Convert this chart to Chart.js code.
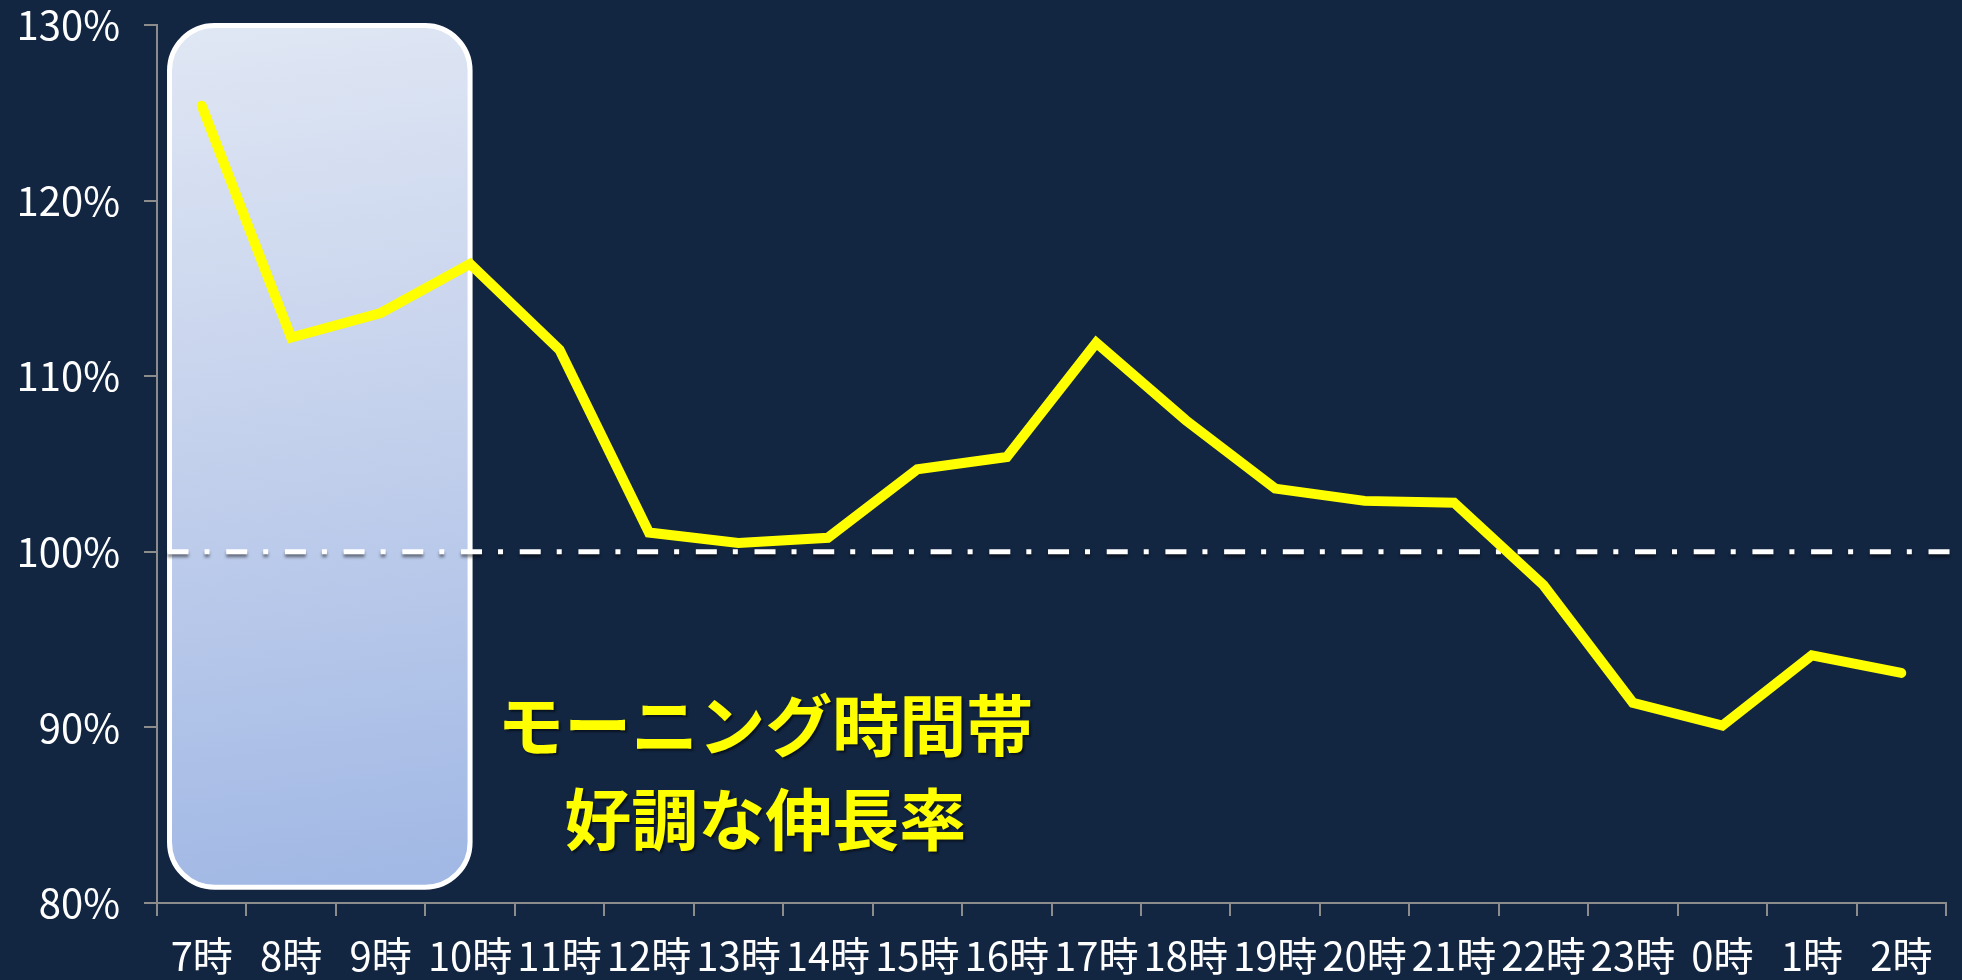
<!DOCTYPE html>
<html>
<head>
<meta charset="utf-8">
<script src="https://cdn.jsdelivr.net/npm/chart.js@4.4.1/dist/chart.umd.min.js"></script>
<style>
  html, body { margin: 0; padding: 0; background: #122541; }
  #wrap { width: 1962px; height: 980px; }
</style>
</head>
<body>
<div id="wrap"><canvas id="chart" width="1962" height="980"></canvas></div>
<script>
const hours = ['7時','8時','9時','10時','11時','12時','13時','14時','15時','16時','17時','18時','19時','20時','21時','22時','23時','0時','1時','2時'];
const growthRate = [125.4, 112.2, 113.6, 116.4, 111.5, 101.1, 100.5, 100.8, 104.7, 105.4, 111.9, 107.5, 103.6, 102.9, 102.8, 98.1, 91.4, 90.1, 94.1, 93.1];
const yTicks = [80, 90, 100, 110, 120, 130];
const baseline = 100;
const noteLines = ['モーニング時間帯', '好調な伸長率'];

const axisGray = '#8c8c8c';
const labelFont = { family: '"Noto Sans CJK JP", "Noto Sans", sans-serif', size: 40 };

// morning highlight box + dash-dot baseline + note text
const overlay = {
  id: 'overlay',
  beforeDatasetsDraw(chart) {
    const { ctx, scales: { x, y } } = chart;
    const l = x.getPixelForValue(-0.36), r = x.getPixelForValue(3);
    const t = y.getPixelForValue(129.97), b = y.getPixelForValue(80.9);
    ctx.save();
    const g = ctx.createLinearGradient(l, t, l + 120, b);
    g.addColorStop(0, '#e0e7f4');
    g.addColorStop(0.5, '#c3d0ec');
    g.addColorStop(1, '#a2b9e5');
    ctx.beginPath();
    ctx.roundRect(l, t, r - l, b - t, 45);
    ctx.fillStyle = g;
    ctx.fill();
    ctx.lineWidth = 5;
    ctx.strokeStyle = '#ffffff';
    ctx.stroke();

    // 100% dash-dot line
    const yy = y.getPixelForValue(baseline);
    ctx.beginPath();
    ctx.moveTo(l - 2, yy);
    ctx.lineTo(chart.chartArea.right + 4, yy);
    ctx.setLineDash([21, 16, 5, 16.7]);
    ctx.lineWidth = 5;
    ctx.strokeStyle = '#ffffff';
    ctx.shadowColor = 'rgba(0,0,0,0.45)';
    ctx.shadowOffsetY = 3;
    ctx.shadowBlur = 3;
    ctx.stroke();
    ctx.restore();
  },
  afterDatasetsDraw(chart) {
    const { ctx, scales: { x, y } } = chart;
    ctx.save();
    ctx.font = 'bold 67px "Noto Sans CJK JP", sans-serif';
    ctx.textAlign = 'center';
    ctx.textBaseline = 'middle';
    ctx.fillStyle = '#ffff00';
    ctx.shadowColor = 'rgba(0,0,0,0.5)';
    ctx.shadowOffsetX = 2;
    ctx.shadowOffsetY = 2;
    ctx.shadowBlur = 2;
    const cx = x.getPixelForValue(6.3);
    ctx.fillText(noteLines[0], cx, y.getPixelForValue(90.1));
    ctx.fillText(noteLines[1], cx, y.getPixelForValue(84.75));
    ctx.restore();
  }
};

new Chart(document.getElementById('chart'), {
  type: 'line',
  data: {
    labels: hours,
    datasets: [{
      data: growthRate,
      borderColor: '#ffff00',
      borderWidth: 10,
      borderCapStyle: 'round',
      borderJoinStyle: 'miter',
      pointRadius: 0,
      tension: 0,
      fill: false
    }]
  },
  options: {
    responsive: false,
    animation: false,
    layout: { padding: { top: 25, right: 16, left: 0, bottom: 0 } },
    plugins: { legend: { display: false }, tooltip: { enabled: false } },
    scales: {
      x: {
        offset: true,
        afterFit: (s) => { s.height = 77; s.paddingLeft = 0; s.paddingRight = 0; },
        grid: { drawOnChartArea: false, drawTicks: true, tickLength: 13, color: axisGray, lineWidth: 2, offset: true },
        border: { color: axisGray, width: 2 },
        ticks: { color: '#ffffff', font: labelFont, padding: 16, maxRotation: 0, autoSkip: false }
      },
      y: {
        min: yTicks[0],
        max: yTicks[yTicks.length - 1],
        afterFit: (s) => { s.width = 157; s.paddingTop = 0; s.paddingBottom = 0; },
        afterBuildTicks: (s) => { s.ticks = yTicks.map(v => ({ value: v })); },
        grid: { drawOnChartArea: false, drawTicks: true, tickLength: 13, color: axisGray, lineWidth: 2 },
        border: { color: axisGray, width: 2 },
        ticks: { color: '#ffffff', font: labelFont, padding: 24, callback: v => v + '%' }
      }
    }
  },
  plugins: [overlay]
});
</script>
</body>
</html>
